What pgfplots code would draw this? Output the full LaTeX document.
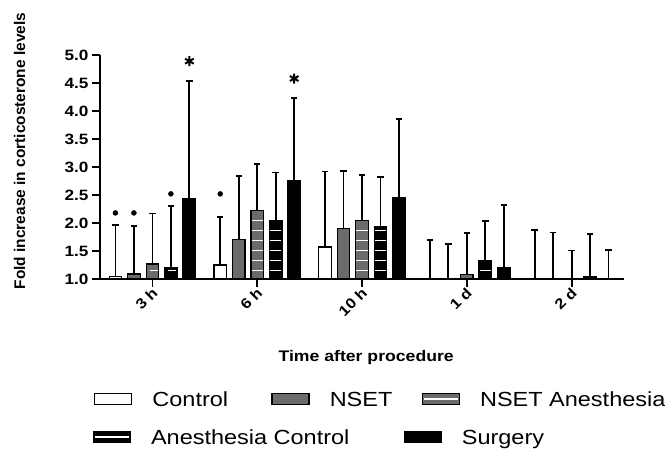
\documentclass[border=0pt]{standalone}
\usepackage{fontspec}
\setmainfont[FakeStretch=1.15]{Liberation Sans}
\newfontfamily\ylfont{Liberation Sans}
\usepackage{pgfplots}
\pgfplotsset{compat=1.18}
\usepackage{pgfplotstable}
\usetikzlibrary{calc}

\definecolor{nsetgray}{RGB}{107,107,107}

% x  mean  top-of-error-bar
\pgfplotstableread{
x y top
0 1.05 1.97
1 1.25 2.11
2 1.57 2.92
3 1.00 1.70
4 1.00 1.875
}\ctrl
\pgfplotstableread{
x y top
0 1.09 1.94
1 1.70 2.84
2 1.90 2.93
3 1.00 1.62
4 1.00 1.83
}\nset
\pgfplotstableread{
x y top
0 1.27 2.17
1 2.22 3.05
2 2.04 2.86
3 1.08 1.82
4 1.00 1.51
}\nseta
\pgfplotstableread{
x y top
0 1.21 2.31
1 2.04 2.90
2 1.93 2.82
3 1.33 2.04
4 1.05 1.80
}\anctrl
\pgfplotstableread{
x y top
0 2.43 4.54
1 2.76 4.23
2 2.46 3.86
3 1.21 2.32
4 1.00 1.52
}\surg

\pgfplotsset{
  mybar/.style={ybar, bar width=12.5bp, bar shift=0pt, line width=1.3bp, draw=black},
  myerr/.style={draw=none, mark=none, forget plot,
    error bars/y dir=plus, error bars/y explicit,
    error bars/error bar style={line width=1.8bp, draw=black, solid},
    error bars/error mark options={rotate=90, mark size=3.2bp, line width=1.8bp, draw=black, solid}},
  dashes/.style={path picture={
      \draw[path picture={}, white, line width=1.7bp]
        let \p1 = (path picture bounding box.south west),
            \p2 = (path picture bounding box.north east),
            \p3 = (axis cs:0,1) in
        foreach \k in {0,...,23} {
          (\x1+3.5bp, \y3+8.5bp+\k*10bp) -- (\x2-3.5bp, \y3+8.5bp+\k*10bp)
        };
      }},
  common/.style={at={(100bp,177bp)}, anchor=south west,
    scale only axis, width=524bp, height=224bp,
    xmin=-0.5, xmax=4.5, ymin=1, ymax=5},
}

\begin{document}
\begin{tikzpicture}
\path[use as bounding box] (0,0) rectangle (665bp,456bp);
\begin{axis}[common,
  axis x line*=bottom, axis y line*=left,
  axis line style={line width=1.8bp, black},
  xtick={0,1,2,3,4}, xticklabels={3 h,6 h,10 h,1 d,2 d},
  ytick={1,1.5,2,2.5,3,3.5,4,4.5,5},
  tick align=outside, major tick length=8bp,
  every tick/.style={black, line width=1.8bp},
  /pgf/number format/assume math mode=true,
  yticklabel style={font=\bfseries\fontsize{15}{15}\selectfont,
    /pgf/number format/.cd, fixed, fixed zerofill, precision=1},
  xticklabel style={rotate=45, anchor=east, xshift=3bp, yshift=-4bp,
    font=\bfseries\fontsize{14.5}{14}\selectfont},
  xlabel={Time after procedure},
  xlabel style={at={(axis description cs:0.508,-0.369)}, anchor=base,
    font=\bfseries\fontsize{15.4}{15}\selectfont},
  ylabel={Fold increase in corticosterone levels},
  ylabel style={at={(axis description cs:-0.143,0.571)}, anchor=base,
    font=\ylfont\bfseries\fontsize{15.5}{15}\selectfont},
  legend columns=3,
  legend cell align=left,
  legend style={draw=none, fill=none, inner sep=0pt, column sep=0pt,
    at={(axis description cs:-0.0115,-0.5357)}, anchor=west,
    nodes={inner sep=0pt, text depth=0pt},
    font=\fontsize{20.5}{21}\selectfont},
]
\addplot[mybar, fill=white,
  legend image code/.code={\draw[fill=white, draw=black, line width=1.3bp] (0bp,-5.5bp) rectangle (37bp,5.5bp); \path (57bp,0);}]
  table[x expr=\thisrow{x}-0.353, y=y] {\ctrl};
\addlegendentry{\makebox[119bp][l]{Control}}
\addplot[mybar, fill=nsetgray,
  legend image code/.code={\draw[fill=nsetgray, draw=black, line width=1.3bp] (0bp,-5.5bp) rectangle (37bp,5.5bp); \path (57bp,0);}]
  table[x expr=\thisrow{x}-0.1765, y=y] {\nset};
\addlegendentry{\makebox[92bp][l]{NSET}}
\addplot[mybar, fill=nsetgray, dashes,
  legend image code/.code={\draw[path picture={}, fill=nsetgray, draw=black, line width=1.3bp] (0bp,-5.5bp) rectangle (37bp,5.5bp); \draw[path picture={}, white, line width=1.6bp] (1.5bp,0) -- (35.5bp,0); \path[path picture={}] (57bp,0);}]
  table[x=x, y=y] {\nseta};
\addlegendentry{NSET Anesthesia}
\addplot[mybar, fill=black, dashes]
  table[x expr=\thisrow{x}+0.1765, y=y] {\anctrl};
\addplot[mybar, fill=black]
  table[x expr=\thisrow{x}+0.353, y=y] {\surg};
% error bars (upper only), drawn after all bars
\addplot[myerr] table[x expr=\thisrow{x}-0.353, y=y, y error expr=\thisrow{top}-\thisrow{y}] {\ctrl};
\addplot[myerr] table[x expr=\thisrow{x}-0.1765, y=y, y error expr=\thisrow{top}-\thisrow{y}] {\nset};
\addplot[myerr] table[x=x, y=y, y error expr=\thisrow{top}-\thisrow{y}] {\nseta};
\addplot[myerr] table[x expr=\thisrow{x}+0.1765, y=y, y error expr=\thisrow{top}-\thisrow{y}] {\anctrl};
\addplot[myerr] table[x expr=\thisrow{x}+0.353, y=y, y error expr=\thisrow{top}-\thisrow{y}] {\surg};
% significance markers
\addplot[only marks, mark=*, mark size=2.5bp, black, forget plot]
  coordinates {(-0.353,2.18) (-0.1765,2.18) (0.1765,2.52) (0.647,2.52)};
\addplot[only marks, mark=asterisk, mark size=5bp, mark options={line width=2bp}, black, forget plot]
  coordinates {(0.353,4.89) (1.353,4.58)};
\end{axis}
\begin{axis}[common, hide axis,
  legend columns=2,
  legend cell align=left,
  legend style={draw=none, fill=none, inner sep=0pt, column sep=0pt,
    at={(axis description cs:-0.0134,-0.705)}, anchor=west,
    nodes={inner sep=0pt, text depth=0pt},
    font=\fontsize{20.5}{21}\selectfont},
]
\addlegendimage{legend image code/.code={\draw[fill=black, draw=black, line width=1.3bp] (0bp,-5.5bp) rectangle (37bp,5.5bp); \draw[white, line width=1.6bp] (1.5bp,0) -- (35.5bp,0); \path (57bp,0);}}
\addlegendentry{\makebox[253bp][l]{Anesthesia Control}}
\addlegendimage{legend image code/.code={\draw[fill=black, draw=black, line width=1.3bp] (0bp,-5.5bp) rectangle (37bp,5.5bp); \path (57bp,0);}}
\addlegendentry{Surgery}
\end{axis}
\end{tikzpicture}
\end{document}
